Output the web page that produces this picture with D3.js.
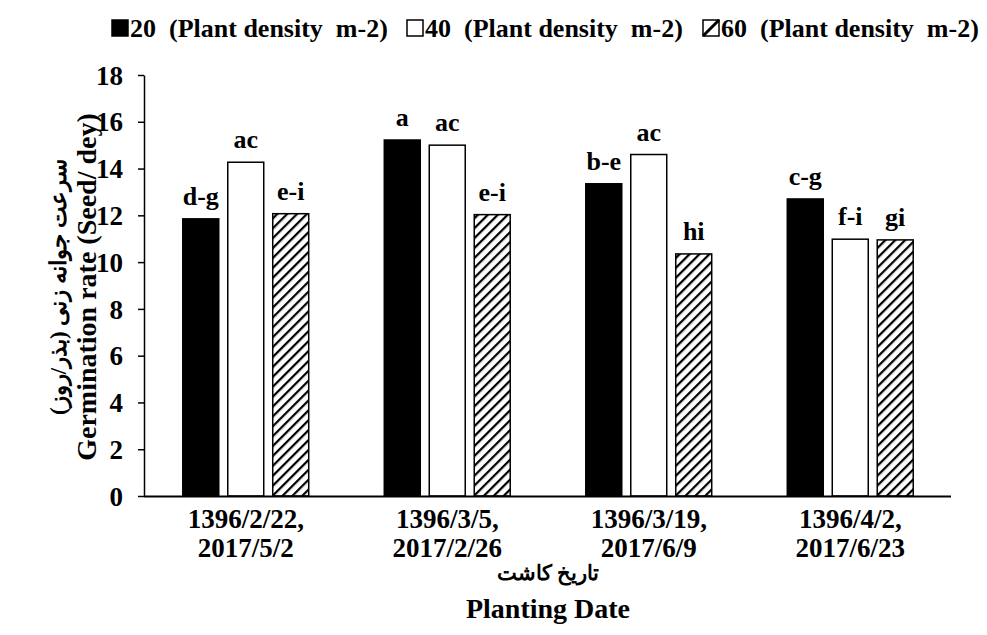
<!DOCTYPE html>
<html lang="en">
<head>
<meta charset="UTF-8">
<title>Germination rate</title>
<style>
  body { margin: 0; background: #fff; }
  text { font-family: "Liberation Serif", "Times New Roman", serif; font-weight: bold; fill: #000; }
  .axis path, .axis line { stroke: #000; stroke-width: 1.5px; }
  .axis text { font-size: 27px; font-family: "Liberation Serif", serif; }
  .bar { stroke: #000; stroke-width: 1.5px; }
</style>
</head>
<body>
<script src="https://cdnjs.cloudflare.com/ajax/libs/d3/7.8.5/d3.min.js"></script>
<script>

var dates = ["1396/2/22,|2017/5/2", "1396/3/5,|2017/2/26", "1396/3/19,|2017/6/9", "1396/4/2,|2017/6/23"];
var densities = ["20", "40", "60"];
var legendNames = ["20  (Plant density  m-2)", "40  (Plant density  m-2)", "60  (Plant density  m-2)"];
var rate20 = [11.85, 15.22, 13.35, 12.7];
var rate40 = [14.27, 15.0, 14.6, 10.98];
var rate60 = [12.07, 12.03, 10.35, 10.95];
var letters20 = ["d-g", "a", "b-e", "c-g"];
var letters40 = ["ac", "ac", "ac", "f-i"];
var letters60 = ["e-i", "e-i", "hi", "gi"];
var yTicks = [0, 2, 4, 6, 8, 10, 12, 14, 16, 18];

var series = [rate20, rate40, rate60];
var letters = [letters20, letters40, letters60];

var svg = d3.select("body").append("svg")
  .attr("width", 987)
  .attr("height", 635);

var defs = svg.append("defs");
var pat = defs.append("pattern")
  .attr("id", "hatch")
  .attr("patternUnits", "userSpaceOnUse")
  .attr("width", 7)
  .attr("height", 7)
  .attr("patternTransform", "rotate(45)");
pat.append("rect").attr("width", 7).attr("height", 7).attr("fill", "#fff");
pat.append("line")
  .attr("x1", 0).attr("y1", 0).attr("x2", 0).attr("y2", 7)
  .attr("stroke", "#000").attr("stroke-width", 4.5);

var fills = ["#000", "#fff", "url(#hatch)"];

var x = d3.scaleBand()
  .domain(dates)
  .range([145, 951])
  .paddingInner(0.375)
  .paddingOuter(0.1875);

var xSub = d3.scaleBand()
  .domain(densities)
  .range([0, x.bandwidth()])
  .paddingInner(0.2);

var y = d3.scaleLinear()
  .domain([0, 18])
  .range([496, 75]);

// bars
var groups = svg.selectAll("g.date")
  .data(dates)
  .enter().append("g")
    .attr("class", "date")
    .attr("transform", function(d) { return "translate(" + x(d) + ",0)"; });

var cells = function(d, i) {
  return densities.map(function(k, j) {
    return { key: k, j: j, value: series[j][i], letter: letters[j][i] };
  });
};

groups.selectAll("rect")
  .data(cells)
  .enter().append("rect")
    .attr("class", "bar")
    .attr("x", function(d) { return xSub(d.key); })
    .attr("y", function(d) { return y(d.value); })
    .attr("width", xSub.bandwidth())
    .attr("height", function(d) { return y(0) - y(d.value); })
    .attr("fill", function(d) { return fills[d.j]; });

groups.selectAll("text.letter")
  .data(cells)
  .enter().append("text")
    .attr("class", "letter")
    .attr("x", function(d) { return xSub(d.key) + xSub.bandwidth() / 2; })
    .attr("y", function(d) { return y(d.value) - 14; })
    .attr("text-anchor", "middle")
    .style("font-size", "26px")
    .text(function(d) { return d.letter; });

// y axis
svg.append("g")
  .attr("class", "axis")
  .attr("transform", "translate(144,0)")
  .call(d3.axisLeft(y).tickValues(yTicks).tickSize(6).tickPadding(15).tickSizeOuter(0))
  .call(function(g) { g.selectAll("text").attr("dy", "0.34em"); });

// x axis
var xAxis = svg.append("g")
  .attr("class", "axis")
  .attr("transform", "translate(0,496)")
  .call(d3.axisBottom(x).tickSize(0).tickSizeOuter(0).tickFormat(""));
xAxis.select("path").attr("d", "M144,0.5H951").style("stroke-width", "2px");

xAxis.selectAll(".tick").each(function(d) {
  var t = d3.select(this).append("text")
    .attr("text-anchor", "middle");
  d.split("|").forEach(function(line, i) {
    t.append("tspan")
      .attr("x", 0)
      .attr("y", 32 + i * 29)
      .text(line);
  });
});

// axis titles
svg.append("text")
  .attr("x", 548)
  .attr("y", 580)
  .attr("text-anchor", "middle")
  .style("font-size", "21px")
  .text("تاریخ کاشت");

svg.append("text")
  .attr("x", 548)
  .attr("y", 618)
  .attr("text-anchor", "middle")
  .style("font-size", "28px")
  .text("Planting Date");

svg.append("text")
  .attr("transform", "translate(66,287) rotate(-90)")
  .attr("text-anchor", "middle")
  .style("font-size", "23px")
  .text("سرعت جوانه زنی (بذر/روز)");

svg.append("text")
  .attr("transform", "translate(96,287) rotate(-90)")
  .attr("text-anchor", "middle")
  .style("font-size", "28px")
  .text("Germination rate (Seed/ dey)");

// legend
var legendX = [112, 407, 703];
var legend = svg.selectAll("g.legend")
  .data(densities)
  .enter().append("g")
    .attr("class", "legend")
    .attr("transform", function(d, i) { return "translate(" + legendX[i] + ",20)"; });

legend.append("rect")
  .attr("width", 16)
  .attr("height", 16)
  .attr("fill", function(d, i) { return i === 0 ? "#000" : "#fff"; })
  .attr("stroke", "#000")
  .attr("stroke-width", 1.5);

legend.filter(function(d, i) { return i === 2; })
  .append("line")
    .attr("x1", 0).attr("y1", 16).attr("x2", 16).attr("y2", 0)
    .attr("stroke", "#000").attr("stroke-width", 3);

legend.append("text")
  .attr("x", 18)
  .attr("y", 17)
  .style("font-size", "26px")
  .style("white-space", "pre")
  .text(function(d, i) { return legendNames[i]; });

</script>
</body>
</html>
